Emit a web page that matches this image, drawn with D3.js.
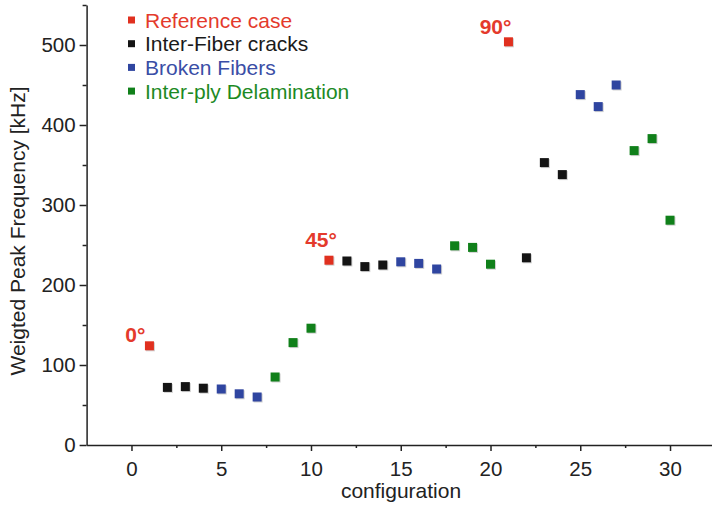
<!DOCTYPE html>
<html>
<head>
<meta charset="utf-8">
<script src="https://cdn.jsdelivr.net/npm/d3@7/dist/d3.min.js"></script>
<style>
  html, body { margin: 0; padding: 0; background: #fff; }
  svg { display: block; font-family: "Liberation Sans", Arial, sans-serif; }
  .axis path, .axis line { stroke: #222; stroke-width: 1.5; }
  .axis text { fill: #222; font-size: 20.5px; }
</style>
</head>
<body>
<svg id="chart" width="712" height="507"></svg>
<script>
// Configuration numbers along the x axis
const configs = [1, 2, 3, 4, 5, 6, 7, 8, 9, 10,
                 11, 12, 13, 14, 15, 16, 17, 18, 19, 20,
                 21, 22, 23, 24, 25, 26, 27, 28, 29, 30];
// Weighted peak frequency per configuration [kHz]
const freqs = [124, 72, 73, 71, 70, 64, 60, 85, 128, 146,
               231, 230, 223, 225, 229, 227, 220, 249, 247, 226,
               504, 234, 353, 338, 438, 423, 450, 368, 383, 281];
// Damage class of each configuration
const classes = ["ref", "ifc", "ifc", "ifc", "bf", "bf", "bf", "del", "del", "del",
                 "ref", "ifc", "ifc", "ifc", "bf", "bf", "bf", "del", "del", "del",
                 "ref", "ifc", "ifc", "ifc", "bf", "bf", "bf", "del", "del", "del"];
// Legend entries
const classKeys = ["ref", "ifc", "bf", "del"];
const classNames = ["Reference case", "Inter-Fiber cracks", "Broken Fibers", "Inter-ply Delamination"];
// Ply angle of each reference case
const refConfigs = [1, 11, 21];
const refAngles = ["0°", "45°", "90°"];
// Tick values
const xTicks = [0, 5, 10, 15, 20, 25, 30];
const xMinor = [2.5, 7.5, 12.5, 17.5, 22.5, 27.5, 32.5];
const yTicks = [0, 100, 200, 300, 400, 500];
const yMinor = [50, 150, 250, 350, 450, 550];

const markColor = { ref: "#e0301f", ifc: "#141414", bf: "#2f45a0", del: "#10801a" };
const textColor = { ref: "#e43a2c", ifc: "#1a1a1a", bf: "#3a4ea6", del: "#1d8a24" };

const svg = d3.select("#chart");

const x = d3.scaleLinear().domain([-2.5, 32.5]).range([86.6, 714.9]);
const y = d3.scaleLinear().domain([0, 550]).range([445, 5]);

// X axis: major and minor ticks
svg.append("g").attr("class", "axis")
  .attr("transform", `translate(0,${y(0)})`)
  .call(d3.axisBottom(x).tickValues(xTicks).tickSize(6).tickSizeOuter(0).tickPadding(10).tickFormat(d3.format("d")));
svg.append("g").attr("class", "axis minor")
  .attr("transform", `translate(0,${y(0)})`)
  .call(d3.axisBottom(x).tickValues(xMinor).tickSize(3).tickSizeOuter(0).tickFormat(""))
  .select(".domain").remove();

// Y axis: major and minor ticks
svg.append("g").attr("class", "axis")
  .attr("transform", `translate(${x(-2.5)},0)`)
  .call(d3.axisLeft(y).tickValues(yTicks).tickSize(7).tickSizeOuter(0).tickPadding(4).tickFormat(d3.format("d")));
svg.append("g").attr("class", "axis minor")
  .attr("transform", `translate(${x(-2.5)},0)`)
  .call(d3.axisLeft(y).tickValues(yMinor).tickSize(4).tickSizeOuter(0).tickFormat(""))
  .select(".domain").remove();

// Axis titles
svg.append("text")
  .attr("x", 401).attr("y", 498)
  .attr("text-anchor", "middle")
  .attr("font-size", 21).attr("fill", "#222")
  .text("configuration");
svg.append("text")
  .attr("transform", `translate(25,${(y(0) + y(550)) / 2 + 6}) rotate(-90)`)
  .attr("text-anchor", "middle")
  .attr("font-size", 21).attr("fill", "#222")
  .text("Weigted Peak Frequency [kHz]");

// Data points: square markers with a faint shadow
const points = configs.map((c, i) => ({ c, f: freqs[i], k: classes[i] }));
const size = 9;
svg.append("g").selectAll("rect.shadow")
  .data(points).join("rect")
  .attr("x", d => x(d.c) - size / 2 + 1)
  .attr("y", d => y(d.f) - size / 2 + 1)
  .attr("width", size).attr("height", size)
  .attr("fill", "#999").attr("opacity", 0.45);
svg.append("g").selectAll("rect.mark")
  .data(points).join("rect")
  .attr("x", d => x(d.c) - size / 2)
  .attr("y", d => y(d.f) - size / 2)
  .attr("width", size).attr("height", size)
  .attr("fill", d => markColor[d.k]);

// Ply angle labels next to the reference cases
const angleOffsets = [[-4, -4], [8, -13], [3, -8]];
svg.append("g").selectAll("text")
  .data(refConfigs).join("text")
  .attr("x", (c, i) => x(c) + angleOffsets[i][0])
  .attr("y", (c, i) => y(freqs[configs.indexOf(c)]) + angleOffsets[i][1])
  .attr("text-anchor", "end")
  .attr("font-size", 21).attr("font-weight", "bold")
  .attr("fill", textColor.ref)
  .text((c, i) => refAngles[i]);

// Legend
const legend = svg.append("g").attr("transform", "translate(128,20)");
classKeys.forEach((k, i) => {
  const row = legend.append("g").attr("transform", `translate(0,${i * 23.7})`);
  row.append("rect").attr("x", 0).attr("y", -3.5).attr("width", 7).attr("height", 7)
    .attr("fill", markColor[k]);
  row.append("text").attr("x", 17).attr("y", 7.5)
    .attr("font-size", 21).attr("fill", textColor[k])
    .text(classNames[i]);
});
</script>
</body>
</html>
